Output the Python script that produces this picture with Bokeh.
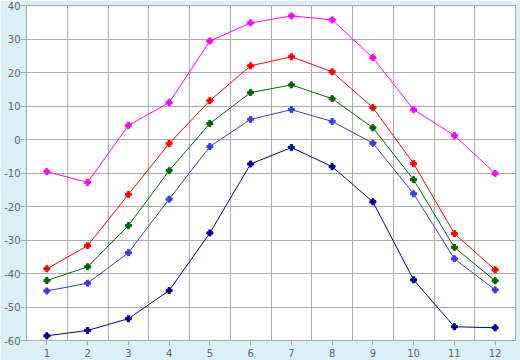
from bokeh.plotting import figure
from bokeh.models import FixedTicker, Range1d
from bokeh.embed import file_html
from bokeh.resources import INLINE

months = [1, 2, 3, 4, 5, 6, 7, 8, 9, 10, 11, 12]
series_max = [-9.6, -12.8, 4.2, 11.0, 29.4, 34.8, 36.9, 35.7, 24.4, 8.9, 1.2, -10.1]
series_high = [-38.6, -31.7, -16.4, -1.2, 11.6, 22.0, 24.7, 20.2, 9.5, -7.2, -28.1, -38.9]
series_mean = [-42.1, -38.0, -25.7, -9.3, 4.8, 14.0, 16.3, 12.2, 3.5, -12.0, -32.2, -42.2]
series_low = [-45.2, -42.9, -33.8, -17.8, -2.1, 6.0, 8.9, 5.4, -1.1, -16.2, -35.6, -44.9]
series_min = [-58.6, -57.0, -53.5, -45.1, -27.9, -7.3, -2.4, -8.1, -18.6, -41.9, -55.9, -56.2]
y_ticks = [-60, -50, -40, -30, -20, -10, 0, 10, 20, 30, 40]
y_tick_labels = [str(t) for t in y_ticks]

BG = "#daeff6"
GRID = "#aaaaaa"

p = figure(width=520, height=360, output_backend="svg", toolbar_location=None,
           x_range=Range1d(0.5, 12.5), y_range=Range1d(-60, 40),
           min_border_left=26, min_border_right=5, min_border_top=5, min_border_bottom=20)
p.background_fill_color = "white"
p.border_fill_color = BG
p.outline_line_color = GRID
p.outline_line_width = 1

p.xaxis.ticker = FixedTicker(ticks=months)
p.yaxis.ticker = FixedTicker(ticks=y_ticks)
p.yaxis.major_label_overrides = dict(zip(y_ticks, y_tick_labels))
p.xgrid.ticker = FixedTicker(ticks=[m + 0.5 for m in range(0, 13)])
p.ygrid.ticker = FixedTicker(ticks=y_ticks)
p.xgrid.grid_line_color = GRID
p.ygrid.grid_line_color = GRID

for ax in (p.xaxis, p.yaxis):
    ax.axis_line_color = None
    ax.major_tick_line_color = GRID
    ax.minor_tick_line_color = None
    ax.major_tick_in = 0
    ax.major_label_text_font = "DejaVu Sans"
    ax.major_label_text_font_size = "10px"
    ax.major_label_text_color = "#666666"
p.xaxis.major_tick_out = 5
p.yaxis.major_tick_out = 6
p.xaxis.major_label_standoff = 3
p.yaxis.major_label_standoff = 0

styles = [
    (series_max, "#ff00ff"),
    (series_high, "#ff0000"),
    (series_mean, "#006600"),
    (series_low, "#3c3cdc"),
    (series_min, "#000099"),
]
for ys, c in styles:
    p.line(months, ys, line_color=c, line_width=1)
    p.scatter(months, ys, marker="plus", size=6, fill_color=c, line_color=c)

open("out.html", "w").write(file_html(p, INLINE))
